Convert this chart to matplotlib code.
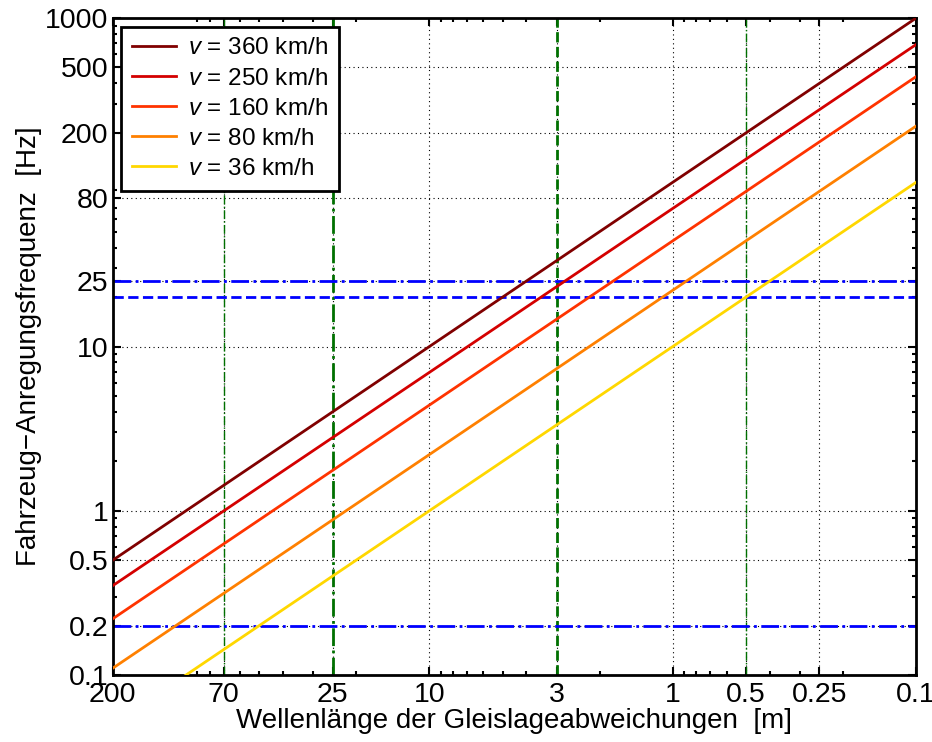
import matplotlib
matplotlib.use("Agg")
import matplotlib.pyplot as plt
from matplotlib.ticker import FixedLocator, NullFormatter

plt.rcParams['font.family'] = ['Liberation Sans', 'DejaVu Sans']
plt.rcParams['mathtext.fontset'] = 'custom'
plt.rcParams['mathtext.it'] = 'Liberation Sans:italic'
plt.rcParams['mathtext.rm'] = 'Liberation Sans'

# data
speeds = ["360", "250", "160", "80", "36"]
wavelength_ends = [200, 0.1]
freq_at_200m = [0.5, 0.35, 0.22, 0.11, 0.05]
freq_at_01m = [1000, 690, 440, 220, 100]
colors = ["#800000", "#d40000", "#ff3300", "#ff8000", "#ffd700"]

x_ticks = [200, 70, 25, 10, 3, 1, 0.5, 0.25, 0.1]
x_ticklabels = ["200", "70", "25", "10", "3", "1", "0.5", "0.25", "0.1"]
y_ticks = [0.1, 0.2, 0.5, 1, 10, 25, 80, 200, 500, 1000]
y_ticklabels = ["0.1", "0.2", "0.5", "1", "10", "25", "80", "200", "500", "1000"]

# marker lines
green_lines = [70, 25, 3, 0.5]
green_styles = ["-.", "-.", "--", "-."]
green_widths = [1.0, 2.0, 2.0, 1.0]
blue_lines = [25, 20, 0.2]
blue_styles = ["-.", "--", "-."]

fig = plt.figure(figsize=(9.32, 7.42), dpi=100)
ax = fig.add_axes([0.121, 0.0903, 0.862, 0.8854])

for x, ls, lw in zip(green_lines, green_styles, green_widths):
    ax.axvline(x, color="#007000", linestyle=ls, linewidth=lw, zorder=2)
for y, ls in zip(blue_lines, blue_styles):
    ax.axhline(y, color="#0000ff", linestyle=ls, linewidth=2.0, zorder=2)

for s, f0, f1, c in zip(speeds, freq_at_200m, freq_at_01m, colors):
    ax.plot(wavelength_ends, [f0, f1], color=c, linewidth=2.0,
            label=r"$v$ = " + s + " km/h", zorder=3)

ax.set_xscale("log")
ax.set_yscale("log")
ax.set_xlim(200, 0.1)
ax.set_ylim(0.1, 1000)

ax.xaxis.set_major_locator(FixedLocator(x_ticks))
ax.set_xticklabels(x_ticklabels)
ax.yaxis.set_major_locator(FixedLocator(y_ticks))
ax.set_yticklabels(y_ticklabels)
ax.xaxis.set_minor_formatter(NullFormatter())
ax.yaxis.set_minor_formatter(NullFormatter())

ax.grid(True, which="major", color="black", linestyle=(0, (1, 3)), linewidth=0.8)
ax.tick_params(which="both", direction="in", top=True, right=True, labelsize=20.5, width=1.5)
ax.tick_params(axis="x", pad=5)
ax.tick_params(axis="y", pad=3)
ax.tick_params(which="major", length=6)
ax.tick_params(which="minor", length=3)
for sp in ax.spines.values():
    sp.set_linewidth(2)

ax.set_xlabel("Wellenlänge der Gleislageabweichungen  [m]", fontsize=20, labelpad=0)
ax.set_ylabel("Fahrzeug\u2212Anregungsfrequenz  [Hz]", fontsize=20, labelpad=2)

leg = ax.legend(loc="upper left", fontsize=17.5, fancybox=False, framealpha=1,
                edgecolor="black", handlelength=1.8, handletextpad=0.5,
                labelspacing=0.33, borderaxespad=0.35, borderpad=0.45)
leg.get_frame().set_linewidth(2)
leg.set_zorder(5)

fig.savefig("out.png", dpi=100)
